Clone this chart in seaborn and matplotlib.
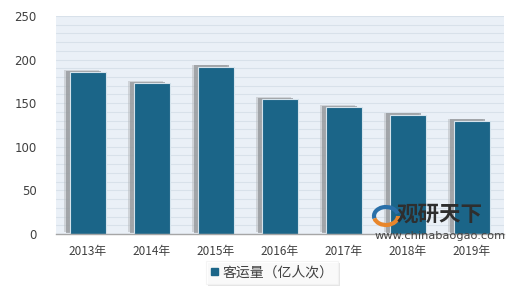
import matplotlib
matplotlib.use("Agg")
import matplotlib.pyplot as plt
import matplotlib.patheffects as pe
from matplotlib.patches import Rectangle, Arc
import seaborn as sns
import pandas as pd

years = ["2013年", "2014年", "2015年", "2016年", "2017年", "2018年", "2019年"]
values = [185.4, 173.2, 191.9, 154.8, 145.3, 136.8, 130.0]
series_name = "客运量（亿人次）"
yticks = [0, 50, 100, 150, 200, 250]

sns.set_theme(style="white")
plt.rcParams['font.family'] = ['Noto Sans CJK SC', 'DejaVu Sans']

df = pd.DataFrame({"year": years, "value": values})

fig = plt.figure(figsize=(5.2, 3.0), dpi=100)
ax = fig.add_axes([0.1077, 0.22, 0.8615, 0.727])
ax.set_facecolor("#EAF0F7")

bar_color = "#1B6588"
sns.barplot(data=df, x="year", y="value", color=bar_color, width=0.55,
            saturation=1, ax=ax, zorder=3, edgecolor="#D5E3EC", linewidth=0.8)
for p in ax.patches:
    p.set_path_effects([
        pe.SimplePatchShadow(offset=(-4.5, 1.5), shadow_rgbFace="#B5B8BB", alpha=0.5),
        pe.SimplePatchShadow(offset=(-3.5, 1.0), shadow_rgbFace="#8F9296", alpha=0.7),
        pe.Normal()])

ax.set_ylim(0, 250)
ax.set_xlim(-0.5, len(years) - 0.5)
ax.set_yticks(yticks)
ax.set_yticks(range(0, 251, 10), minor=True)
ax.grid(axis="y", which="both", color="#D8E1EA", linewidth=0.8, zorder=0)
ax.set_axisbelow(True)
for s in ["left", "right", "top"]:
    ax.spines[s].set_visible(False)
ax.spines["bottom"].set_color("#A6A6A6")
ax.spines["bottom"].set_linewidth(1.0)
ax.spines["bottom"].set_zorder(4)
ax.set_xlabel("")
ax.set_ylabel("")
ax.tick_params(axis="both", which="both", length=0, colors="#404040", labelsize=8.5)
ax.tick_params(axis="x", pad=8)
ax.tick_params(axis="y", pad=14)
for t in ax.get_yticklabels():
    t.set_family(['DejaVu Sans'])
    t.set_fontsize(8.5)

# legend
handle = Rectangle((0, 0), 1, 1, color=bar_color)
leg = fig.legend([handle], [series_name], loc="center", bbox_to_anchor=(0.523, 0.092),
                 frameon=True, fontsize=10, handlelength=0.5, handleheight=0.5,
                 handletextpad=0.3, borderpad=0.35, fancybox=False, labelcolor="#404040")
leg.get_frame().set_edgecolor("#F2F2F2")
leg.get_frame().set_linewidth(0.8)
leg.get_frame().set_path_effects([pe.SimplePatchShadow(offset=(1.5, -1.5), shadow_rgbFace="#CCCCCC", alpha=0.5), pe.Normal()])

# watermark
fig.text(0.762, 0.285, "观研天下", fontsize=15.5, fontweight="heavy", color="#2E2E2E", ha="left", va="center")
fig.text(0.720, 0.212, "www.chinabaogao.com", fontsize=8.2, color="#444444", ha="left", va="center",
         family=['DejaVu Sans'])
cx, cy = 386 / 520, 1 - 216 / 300
fig.patches.append(Arc((cx, cy), 24 / 520, 18 / 300, theta1=20, theta2=200, color="#2A6FA8",
                       linewidth=3, transform=fig.transFigure, figure=fig))
fig.patches.append(Arc((cx, cy), 24 / 520, 18 / 300, theta1=200, theta2=360, color="#E8862B",
                       linewidth=3, transform=fig.transFigure, figure=fig))

fig.savefig("out.png", dpi=100)
